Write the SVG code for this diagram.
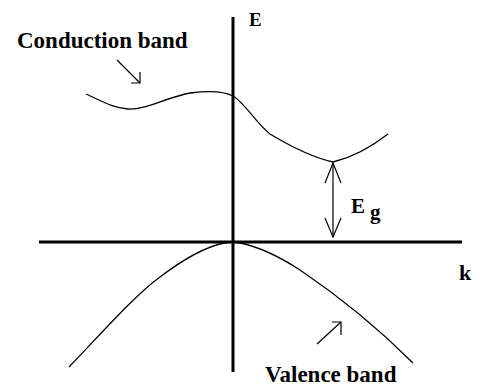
<svg xmlns="http://www.w3.org/2000/svg" width="480" height="386" viewBox="0 0 480 386">
<style>
.lbl{font-family:"Liberation Serif","Times New Roman",serif;font-weight:bold;fill:#000}
.axis{stroke:#000;stroke-width:3;fill:none}
.curve{stroke:#000;stroke-width:1.3;fill:none;stroke-linejoin:round}
.thin{stroke:#000;stroke-width:1.2;fill:none}
</style>
<rect width="480" height="386" fill="#fff"/>
<g id="axes">
<line class="axis" x1="233" y1="17" x2="233" y2="372"/>
<line class="axis" x1="39" y1="242" x2="462" y2="242"/>
<text class="lbl" x="249" y="26" font-size="19">E</text>
<text class="lbl" x="459" y="280" font-size="22">k</text>
</g>
<g id="conduction-band">
<path class="curve" d="M86,94 C100,100 112,108 128,109 C145,110 165,98 190,93 C205,91 222,90 233,96 C245,103 255,122 270,134 C290,146 315,158 333,162 C350,158 370,148 388,134"/>
<text class="lbl" x="17" y="48" font-size="23">Conduction band</text>
</g>
<g id="valence-band">
<path class="curve" d="M69,367 C100,335 135,295 160,277 C185,258 205,247 224,243 L233,242"/>
<path class="curve" d="M233,242 L240,243 C260,247 280,257 300,270 C340,297 380,330 413,363"/>
<text class="lbl" x="265" y="382" font-size="23">Valence band</text>
</g>
<g id="gap">
<text class="lbl" x="351" y="213" font-size="21">E</text>
<text class="lbl" x="370" y="219" font-size="21">g</text>
</g>
<g id="connectors">
<line class="thin" x1="333" y1="163" x2="333" y2="237"/>
<polyline class="thin" points="325,183 333,163 341,183"/>
<polyline class="thin" points="325,218 333,237 341,218"/>
<line class="thin" x1="117" y1="60" x2="140" y2="83"/>
<polyline class="thin" points="131,83 140,83 140,72"/>
<line class="thin" x1="317" y1="344" x2="341" y2="322"/>
<polyline class="thin" points="332,322 341,322 341,335"/>
</g>
</svg>
